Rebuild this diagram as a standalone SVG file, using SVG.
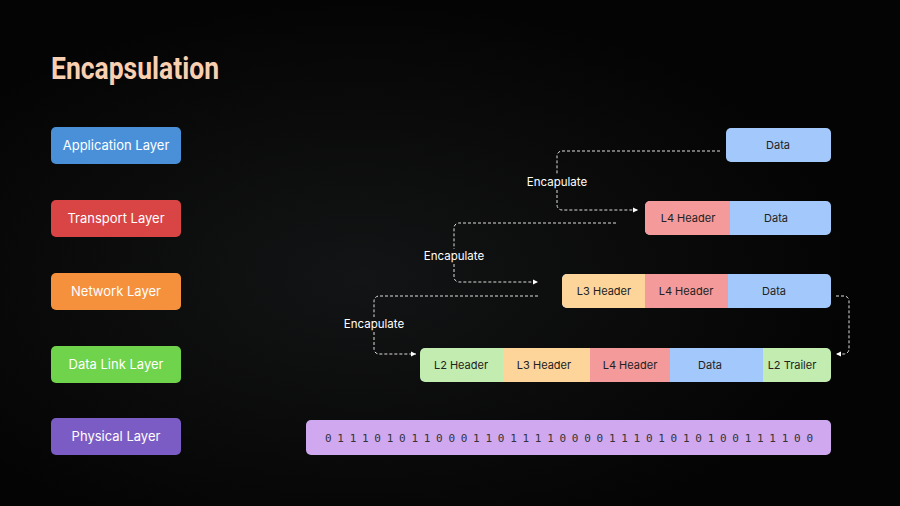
<svg xmlns="http://www.w3.org/2000/svg" width="900" height="506" viewBox="0 0 900 506">
<defs>
<radialGradient id="bg" cx="0.4" cy="0.55" r="0.55"><stop offset="0" stop-color="#131415"/><stop offset="1" stop-color="#040404"/></radialGradient>
<marker id="ar" markerWidth="6" markerHeight="6" refX="5" refY="3" orient="auto" markerUnits="userSpaceOnUse"><path d="M0,0.5 L5,3 L0,5.5z" fill="#fff"/></marker>
<style>
.l{font-family:"Inter","Liberation Sans",sans-serif;font-size:13px;fill:#fff;text-anchor:middle}
.s{font-family:"Inter","Liberation Sans",sans-serif;font-size:11px;fill:#222;text-anchor:middle}
.e{font-family:"Inter","Liberation Sans",sans-serif;font-size:11.5px;fill:#fff;text-anchor:middle}
.c{fill:none;stroke:#ddd;stroke-width:1;stroke-dasharray:3 2}
</style>
</defs>
<rect width="900" height="506" fill="url(#bg)"/>
<text x="51" y="79" font-family="Roboto,'Liberation Sans',sans-serif" font-weight="bold" font-size="32" fill="#f8cfb0" textLength="168" lengthAdjust="spacingAndGlyphs">Encapsulation</text>
<g id="app"><rect x="51" y="127" width="130" height="37" rx="5" fill="#4a90d9"/><text class="l" x="116" y="150">Application Layer</text></g>
<g id="transport"><rect x="51" y="200" width="130" height="37" rx="5" fill="#d94444"/><text class="l" x="116" y="223">Transport Layer</text></g>
<g id="network"><rect x="51" y="273" width="130" height="37" rx="5" fill="#f5903d"/><text class="l" x="116" y="296">Network Layer</text></g>
<g id="datalink"><rect x="51" y="346" width="130" height="37" rx="5" fill="#6fd34c"/><text class="l" x="116" y="369">Data Link Layer</text></g>
<g id="physical"><rect x="51" y="418" width="130" height="37" rx="5" fill="#7b5cc4"/><text class="l" x="116" y="441">Physical Layer</text></g>

<g id="row1"><rect x="726" y="128" width="105" height="34" rx="5" fill="#a3c8fb"/><text class="s" x="778" y="149">Data</text></g>
<g id="row2">
<rect x="645" y="201" width="186" height="34" rx="5" fill="#a3c8fb"/>
<path d="M650,201 H730 V235 H650 a5,5 0 0 1 -5,-5 V206 a5,5 0 0 1 5,-5z" fill="#f59a9a"/>
<text class="s" x="688" y="222">L4 Header</text><text class="s" x="776" y="222">Data</text></g>
<g id="row3">
<rect x="562" y="274" width="269" height="34" rx="5" fill="#a3c8fb"/>
<rect x="645" y="274" width="83" height="34" fill="#f59a9a"/>
<path d="M567,274 H645 V308 H567 a5,5 0 0 1 -5,-5 V279 a5,5 0 0 1 5,-5z" fill="#fdd59a"/>
<text class="s" x="604" y="295">L3 Header</text><text class="s" x="686" y="295">L4 Header</text><text class="s" x="774" y="295">Data</text></g>
<g id="row4">
<rect x="420" y="348" width="411" height="34" rx="5" fill="#c3ecb0"/>
<rect x="503" y="348" width="87" height="34" fill="#fdd59a"/>
<rect x="590" y="348" width="80" height="34" fill="#f59a9a"/>
<rect x="670" y="348" width="93" height="34" fill="#a3c8fb"/>
<text class="s" x="461" y="369">L2 Header</text><text class="s" x="544" y="369">L3 Header</text><text class="s" x="630" y="369">L4 Header</text><text class="s" x="710" y="369">Data</text><text class="s" x="792" y="369">L2 Trailer</text></g>
<g id="row5"><rect x="306" y="420" width="525" height="35" rx="5" fill="#cfa8f0"/>
<text x="569" y="442" font-family="'DejaVu Sans Mono','Liberation Mono',monospace" font-size="11" fill="#333" text-anchor="middle" textLength="488" lengthAdjust="spacing">0 1 1 1 0 1 0 1 1 0 0 0 1 1 0 1 1 1 1 0 0 0 0 1 1 1 0 1 0 1 0 1 0 0 1 1 1 1 0 0</text></g>

<g id="connectors">
<path class="c" d="M720,151 H562 a5,5 0 0 0 -5,5 V175 M557,190 V205 a5,5 0 0 0 5,5 H638" marker-end="url(#ar)"/>
<path class="c" d="M616,223 H459 a5,5 0 0 0 -5,5 V249 M454,264 V277 a5,5 0 0 0 5,5 H538" marker-end="url(#ar)"/>
<path class="c" d="M538,296 H379 a5,5 0 0 0 -5,5 V317 M374,332 V349 a5,5 0 0 0 5,5 H416" marker-end="url(#ar)"/>
<path class="c" d="M836,296 H844 a5,5 0 0 1 5,5 V349 a5,5 0 0 1 -5,5 H836" marker-end="url(#ar)"/>
<text class="e" x="557" y="186">Encapulate</text>
<text class="e" x="454" y="260">Encapulate</text>
<text class="e" x="374" y="328">Encapulate</text>
</g>
</svg>
